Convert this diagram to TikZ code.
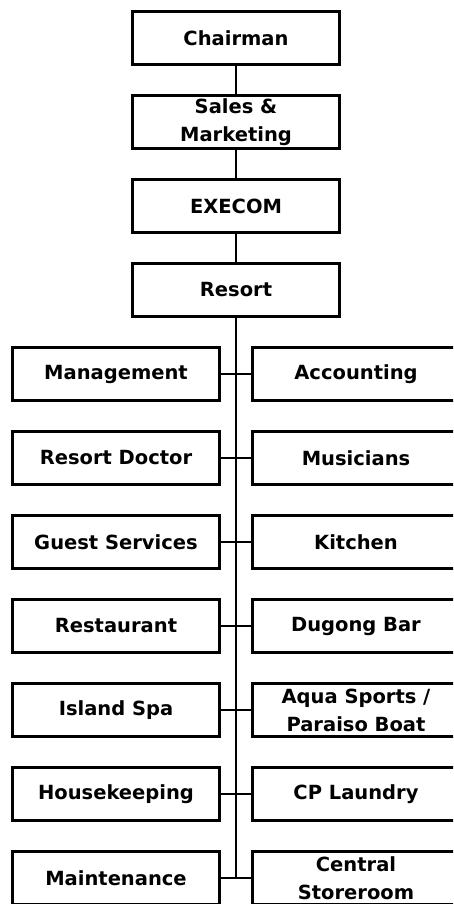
\documentclass[tikz,border=0pt]{standalone}
\usepackage{fontspec}
\setmainfont{DejaVu Sans}
\begin{document}
\begin{tikzpicture}[x=1pt,y=-1pt,
  box/.style={draw=black, line width=3.2pt, rectangle, minimum width=207pt, minimum height=53pt,
    inner sep=0pt, align=center, font=\bfseries\fontsize{19.5}{28}\selectfont},
  link/.style={draw=black, line width=1.7pt}]
\useasboundingbox (0,0) rectangle (453,904);
\clip (0,0) rectangle (453,904);
\fill[white] (0,0) rectangle (453,904);
% top chain
\node[box] (chair) at (236,38) {Chairman};
\node[box] (sales) at (236,122) {Sales \&\\Marketing};
\node[box] (exec) at (236,206) {EXECOM};
\node[box] (resort) at (236,290) {Resort};
% side boxes
\node[box] (l1) at (116,374) {Management};
\node[box] (r1) at (356,374) {Accounting};
\node[box] (l2) at (116,458) {Resort Doctor};
\node[box] (r2) at (356,458) {Musicians};
\node[box] (l3) at (116,542) {Guest Services};
\node[box] (r3) at (356,542) {Kitchen};
\node[box] (l4) at (116,626) {Restaurant};
\node[box] (r4) at (356,626) {Dugong Bar};
\node[box] (l5) at (116,710) {Island Spa};
\node[box] (r5) at (356,710) {Aqua Sports /\\Paraiso Boat};
\node[box] (l6) at (116,794) {Housekeeping};
\node[box] (r6) at (356,794) {CP Laundry};
\node[box] (l7) at (116,878) {Maintenance};
\node[box] (r7) at (356,878) {Central\\Storeroom};
% connectors
\draw[link] (chair) -- (sales);
\draw[link] (sales) -- (exec);
\draw[link] (exec) -- (resort);
\coordinate (bend) at (resort.south |- l7.east);
\draw[link] (resort.south) -- (bend);
\foreach \i in {1,...,7} {
  \draw[link] (l\i.east) -- (r\i.west);
}
\end{tikzpicture}
\end{document}
